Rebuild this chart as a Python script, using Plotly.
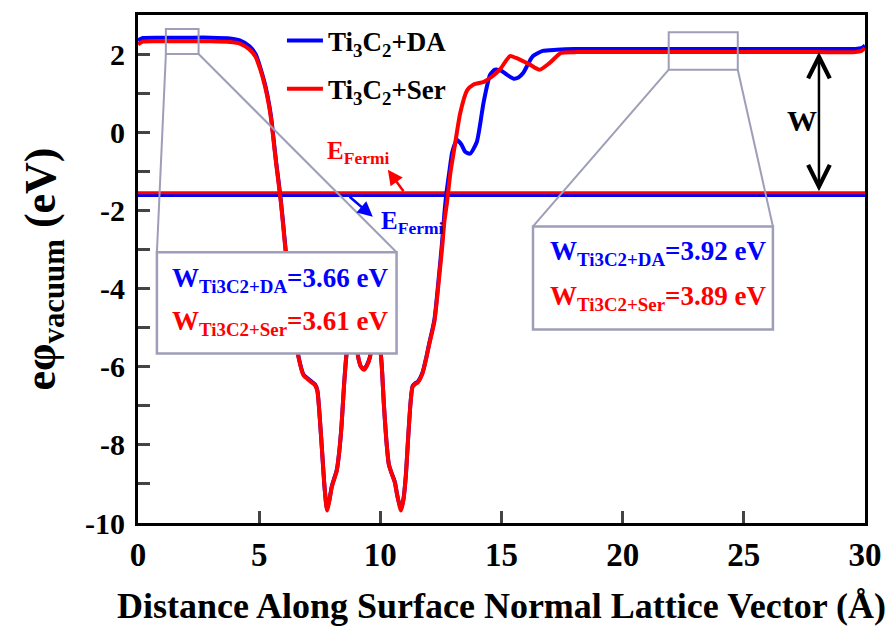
import plotly.graph_objects as go

# ---------------- data ----------------
x_da = [0, 0.2, 1, 2, 3, 3.8, 4.2, 4.6, 4.85, 5.05, 5.25, 5.4, 5.5, 5.6, 5.7, 5.8, 5.9, 6.0, 6.1,
        6.2, 6.3, 6.4, 6.5, 6.63, 6.83, 7.1, 7.3, 7.4, 7.5, 7.6, 7.7, 7.8, 7.9, 8.0, 8.1, 8.2,
        8.3, 8.4, 8.5, 8.6, 8.7, 8.85, 9.0, 9.1, 9.2, 9.33, 9.45, 9.57, 9.7, 9.82, 9.95, 10.05,
        10.15, 10.25, 10.35, 10.45, 10.6, 10.7, 10.85, 10.95, 11.05, 11.15, 11.25, 11.33, 11.45,
        11.55, 11.74, 11.9, 12.02, 12.23, 12.43, 12.55, 12.64, 12.72, 12.85, 12.97, 13.17, 13.35,
        13.5, 13.7, 13.98, 14.26, 14.53, 14.73, 15.0, 15.25, 15.5, 15.7, 15.9, 16.1, 16.3, 16.7,
        17.27, 18, 20, 22, 24, 26, 28, 29.6, 29.85, 30]
y_da = [2.35, 2.41, 2.42, 2.42, 2.42, 2.40, 2.35, 2.2, 2.0, 1.65, 1.2, 0.75, 0.35, -0.2, -0.76,
        -1.25, -1.78, -2.4, -3.05, -3.6, -4.2, -4.75, -5.25, -5.76, -6.2, -6.35, -6.45, -6.6,
        -7.3, -8.2, -9.1, -9.65, -9.4, -9.05, -8.85, -8.65, -8.2, -7.5, -6.5, -5.7, -5.2, -5.0,
        -5.4, -5.8, -6.0, -6.06, -5.95, -5.75, -5.2, -5.0, -5.3, -5.9, -7.0, -7.9, -8.5, -8.7,
        -8.95, -9.3, -9.65, -9.4, -8.8, -7.8, -6.9, -6.5, -6.42, -6.38, -6.15, -5.75, -5.4, -4.8,
        -3.6, -2.8, -2.1, -1.6, -1.0, -0.5, -0.2, -0.32, -0.5, -0.55, -0.25, 0.76, 1.47, 1.6,
        1.57, 1.46, 1.37, 1.4, 1.52, 1.75, 1.95, 2.08, 2.11, 2.13, 2.13, 2.13, 2.13, 2.13, 2.13,
        2.13, 2.15, 2.22]

x_ser = [0, 0.2, 1, 2, 3, 3.8, 4.2, 4.6, 4.85, 5.05, 5.25, 5.4, 5.5, 5.6, 5.7, 5.8, 5.9, 6.0, 6.1,
         6.2, 6.3, 6.4, 6.5, 6.63, 6.83, 7.1, 7.3, 7.4, 7.5, 7.6, 7.7, 7.8, 7.9, 8.0, 8.1, 8.2,
         8.3, 8.4, 8.5, 8.6, 8.7, 8.85, 9.0, 9.1, 9.2, 9.33, 9.45, 9.57, 9.7, 9.82, 9.95, 10.05,
         10.15, 10.25, 10.35, 10.45, 10.6, 10.7, 10.85, 10.95, 11.05, 11.15, 11.25, 11.33, 11.45,
         11.55, 11.74, 11.9, 12.02, 12.23, 12.43, 12.55, 12.64, 12.75, 12.9, 13.05, 13.3, 13.58,
         13.85, 14.27, 14.6, 14.93, 15.35, 15.6, 16.17, 16.57, 17.0, 17.46, 18.1, 20, 22, 24, 26,
         28, 29.6, 29.85, 30]
y_ser = [2.25, 2.32, 2.33, 2.33, 2.33, 2.31, 2.27, 2.12, 1.93, 1.6, 1.15, 0.7, 0.3, -0.25, -0.8,
         -1.3, -1.82, -2.45, -3.1, -3.6, -4.2, -4.75, -5.25, -5.78, -6.22, -6.37, -6.47, -6.62,
         -7.3, -8.2, -9.1, -9.68, -9.42, -9.07, -8.87, -8.67, -8.2, -7.5, -6.5, -5.7, -5.2, -5.0,
         -5.4, -5.8, -6.0, -6.08, -5.97, -5.77, -5.2, -5.0, -5.3, -5.9, -7.0, -7.9, -8.5, -8.7,
         -8.97, -9.3, -9.68, -9.42, -8.82, -7.8, -6.9, -6.52, -6.44, -6.4, -6.17, -5.77, -5.42,
         -4.85, -3.7, -2.95, -2.3, -1.8, -1.0, -0.43, 0.5, 1.07, 1.22, 1.29, 1.42, 1.6, 1.95, 1.9,
         1.73, 1.6, 1.78, 2.03, 2.05, 2.05, 2.05, 2.05, 2.05, 2.05, 2.05, 2.08, 2.15]

x_fermi = [0, 30]
fermi_da = -1.62
fermi_ser = -1.55

x_ticks = [0, 5, 10, 15, 20, 25, 30]
x_ticktext = ["0", "5", "10", "15", "20", "25", "30"]
y_ticks = [2, 0, -2, -4, -6, -8, -10]
y_ticktext = ["2", "0", "-2", "-4", "-6", "-8", "-10"]

names = ["Ti<sub>3</sub>C<sub>2</sub>+DA", "Ti<sub>3</sub>C<sub>2</sub>+Ser"]
colors = ["#0000ff", "#ff0000"]
w_left = ["3.66", "3.61"]
w_right = ["3.92", "3.89"]
w_labels = ["Ti3C2+DA", "Ti3C2+Ser"]

FONT = "Liberation Serif"
GRAY = "#9e9eb8"


def bfont(size, color="black"):
    return dict(family=FONT, size=size, color=color, weight="bold")


fig = go.Figure()
fig.add_trace(go.Scatter(x=x_fermi, y=[fermi_da] * 2, mode="lines",
                         line=dict(color=colors[0], width=3), showlegend=False))
fig.add_trace(go.Scatter(x=x_fermi, y=[fermi_ser] * 2, mode="lines",
                         line=dict(color=colors[1], width=3), showlegend=False))
fig.add_trace(go.Scatter(x=x_da, y=y_da, mode="lines", name=names[0], legendgroup="a",
                         line=dict(color=colors[0], width=4, shape="spline", smoothing=0.6)))
fig.add_trace(go.Scatter(x=x_ser, y=y_ser, mode="lines", name=names[1], legendgroup="b",
                         line=dict(color=colors[1], width=4, shape="spline", smoothing=0.6)))

shapes = [
    # left zoom boxes
    dict(type="line", x0=1.15, y0=2.0, x1=0.78, y1=-3.07, line=dict(color=GRAY, width=2)),
    dict(type="line", x0=2.5, y0=2.0, x1=10.67, y1=-3.07, line=dict(color=GRAY, width=2)),
    dict(type="rect", x0=1.15, y0=2.0, x1=2.5, y1=2.64, line=dict(color=GRAY, width=2)),
    dict(type="rect", x0=0.78, y0=-3.07, x1=10.67, y1=-5.66, fillcolor="white",
         line=dict(color=GRAY, width=2.5)),
    # right zoom boxes
    dict(type="line", x0=21.9, y0=1.6, x1=16.3, y1=-2.41, line=dict(color=GRAY, width=2)),
    dict(type="line", x0=24.75, y0=1.6, x1=26.2, y1=-2.41, line=dict(color=GRAY, width=2)),
    dict(type="rect", x0=21.9, y0=1.6, x1=24.75, y1=2.56, line=dict(color=GRAY, width=2)),
    dict(type="rect", x0=16.3, y0=-2.41, x1=26.2, y1=-5.05, fillcolor="white",
         line=dict(color=GRAY, width=2.5)),
]
for s in shapes:
    s.update(xref="x", yref="y", layer="above")

ann = []
box_font = 27
for i in range(2):
    ann.append(dict(x=1.3, y=[-3.78, -4.87][i], xanchor="left", yanchor="middle",
                    text=f"W<sub>{w_labels[i]}</sub>={w_left[i]} eV",
                    font=bfont(box_font, colors[i])))
    ann.append(dict(x=16.9, y=[-3.1, -4.24][i], xanchor="left", yanchor="middle",
                    text=f"W<sub>{w_labels[i]}</sub>={w_right[i]} eV",
                    font=bfont(box_font, colors[i])))
# E_Fermi labels
ann.append(dict(x=7.73, y=-0.52, xanchor="left", yanchor="middle", text="E<sub>Fermi</sub>",
                font=bfont(25, colors[1])))
ann.append(dict(x=9.95, y=-2.3, xanchor="left", yanchor="middle", text="E<sub>Fermi</sub>",
                font=bfont(25, colors[0])))
# E_Fermi arrows
ann.append(dict(x=10.31, y=-0.96, ax=11.0, ay=fermi_ser, axref="x", ayref="y", text="",
                showarrow=True, arrowhead=2, arrowsize=1.2, arrowwidth=2.5, arrowcolor=colors[1]))
ann.append(dict(x=9.69, y=-2.16, ax=8.67, ay=fermi_da, axref="x", ayref="y", text="",
                showarrow=True, arrowhead=2, arrowsize=1.2, arrowwidth=2.5, arrowcolor=colors[0]))
# W double arrow
ann.append(dict(x=28.1, y=2.05, ax=28.1, ay=fermi_ser, axref="x", ayref="y", text="",
                showarrow=True, arrowhead=5, startarrowhead=5, arrowside="end+start",
                arrowsize=1.7, startarrowsize=1.7, arrowwidth=2.5, arrowcolor="black"))
ann.append(dict(x=27.4, y=0.3, xanchor="center", yanchor="middle", text="W", showarrow=False,
                font=bfont(30)))
for a in ann:
    a.setdefault("showarrow", False)
    a.update(xref="x", yref="y")

fig.update_layout(
    width=894, height=632,
    margin=dict(l=138, r=22, t=12, b=109),
    paper_bgcolor="white", plot_bgcolor="white",
    shapes=shapes, annotations=ann,
    font=bfont(20),
    legend=dict(x=0.198, y=0.997, xanchor="left", yanchor="top", bgcolor="rgba(0,0,0,0)",
                font=bfont(27), tracegroupgap=10, itemwidth=36),
    xaxis=dict(range=[0, 30], tickvals=x_ticks, ticktext=x_ticktext, ticks="inside", ticklen=12,
               tickwidth=2.5, showline=True, linewidth=3, linecolor="black", mirror=True,
               showgrid=False, zeroline=False, tickfont=bfont(33),
               title=dict(text="Distance Along Surface Normal Lattice Vector (Å)",
                          font=bfont(36), standoff=22)),
    yaxis=dict(range=[-10, 3], tickvals=y_ticks, ticktext=y_ticktext, ticks="inside", ticklen=12,
               tickwidth=2.5,
               minor=dict(dtick=1, ticks="inside", ticklen=12, tickwidth=2.5, showgrid=False),
               showline=True, linewidth=3, linecolor="black", mirror=True, showgrid=False,
               zeroline=False, tickfont=bfont(30), ticklabelstandoff=4,
               title=dict(text="eφ<sub>vacuum</sub> (eV)", font=bfont(44), standoff=16)),
)

fig.write_html("out.html")
